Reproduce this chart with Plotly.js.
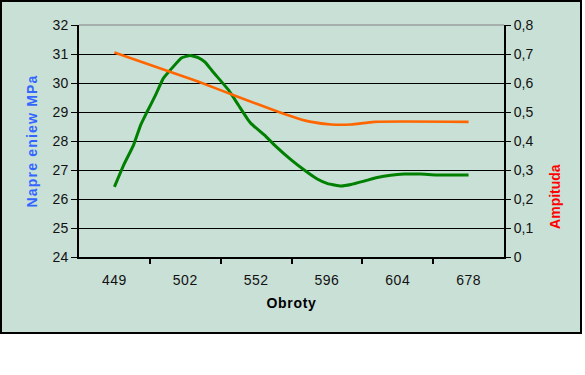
<!DOCTYPE html>
<html><head><meta charset="utf-8">
<script src="https://cdn.plot.ly/plotly-3.0.1.min.js"></script>
<style>
html,body{margin:0;padding:0;background:#fff;}
#frame{position:absolute;left:0;top:0;width:582px;height:334px;box-sizing:border-box;border:2px solid #000;background:#c9e0d7;}
#chart{position:absolute;left:0;top:0;width:585px;height:375px;}
#chart .ytitle{letter-spacing:1.2px;}
#chart .xtitle{letter-spacing:0.7px;}
#chart .xtick text{letter-spacing:0.5px;}
</style></head><body>
<div id="frame"></div><div id="chart"></div>
<script>
// category labels (rpm)
const obroty = ['449','502','552','596','604','678'];
// Napięcie [MPa], positions in category-index units
const napPos = [0, 0.13, 0.27, 0.37, 0.46, 0.58, 0.69, 0.79, 0.95, 1.07, 1.19, 1.28, 1.39, 1.61, 1.75, 1.89, 1.93, 2.12, 2.26, 2.50, 2.68, 2.87, 3.01, 3.20, 3.34, 3.53, 3.71, 3.90, 4.09, 4.32, 4.55, 5.00];
const napVal = [26.42, 27.17, 27.86, 28.55, 29.00, 29.58, 30.16, 30.45, 30.87, 30.95, 30.87, 30.72, 30.39, 29.76, 29.24, 28.72, 28.60, 28.20, 27.86, 27.34, 27.00, 26.68, 26.53, 26.45, 26.50, 26.62, 26.74, 26.82, 26.86, 26.86, 26.83, 26.83];
// Amplituda
const ampPos = [0, 0.58, 1.19, 1.75, 2.31, 2.59, 2.78, 3.06, 3.34, 3.67, 5.00];
const ampVal = [0.705, 0.656, 0.604, 0.552, 0.501, 0.478, 0.466, 0.457, 0.457, 0.466, 0.466];

const idx = obroty.map((_, i) => i);
const between = idx.slice(1).map(i => i - 0.5);
const F = '"Liberation Sans", Arial, sans-serif';

const traces = [
  {x: napPos, y: napVal, type: 'scatter', mode: 'lines', name: 'Napięcie',
   line: {color: '#008000', width: 3, shape: 'spline', smoothing: 0.4}, yaxis: 'y'},
  {x: ampPos, y: ampVal, type: 'scatter', mode: 'lines', name: 'Amplituda',
   line: {color: '#ff6600', width: 2.6, shape: 'spline', smoothing: 0.5}, yaxis: 'y2'}
];

const layout = {
  width: 585, height: 375,
  margin: {l: 79, r: 81, t: 25, b: 118},
  paper_bgcolor: 'rgba(0,0,0,0)', plot_bgcolor: 'rgba(0,0,0,0)',
  showlegend: false,
  separators: ', ',
  font: {family: F, size: 14, color: '#111'},
  xaxis: {
    range: [-0.5, obroty.length - 0.5], tickmode: 'array', tickvals: idx, ticktext: obroty,
    ticks: 'outside', ticklen: 9, tickcolor: 'rgba(0,0,0,0)',
    minor: {tickmode: 'array', tickvals: between, ticks: 'outside', ticklen: 5, tickwidth: 2, tickcolor: '#000', showgrid: false},
    showline: true, linecolor: '#000', linewidth: 2, showgrid: false, zeroline: false,
    tickfont: {family: F, size: 14, color: '#111'},
    title: {text: 'Obroty', font: {family: F, size: 14, color: '#000', weight: 700}, standoff: 11}
  },
  yaxis: {
    range: [24, 32], dtick: 1, ticks: 'outside', ticklen: 6, tickwidth: 1, tickcolor: '#000',
    showline: true, linecolor: '#000', linewidth: 2, showgrid: true, gridcolor: '#000', gridwidth: 1,
    zeroline: false, tickfont: {family: F, size: 14, color: '#111'},
    title: {text: 'Napre eniew MPa', font: {family: F, size: 14, color: '#3366ff', weight: 700}, standoff: 12}
  },
  yaxis2: {
    range: [0, 0.8], dtick: 0.1, overlaying: 'y', side: 'right', ticks: 'outside', ticklen: 5,
    tickwidth: 1, tickcolor: '#000', showline: true, linecolor: '#000', linewidth: 2,
    showgrid: false, zeroline: false, tickfont: {family: F, size: 14, color: '#111'}
  },
  shapes: [
    {type: 'line', xref: 'paper', yref: 'paper', x0: 0, x1: 1, y0: 1, y1: 1, line: {color: '#808080', width: 1}}
  ],
  annotations: [
    {text: 'Ampituda', xref: 'paper', yref: 'paper', x: 1.12, y: 0.259, xanchor: 'center', yanchor: 'middle',
     textangle: -90, showarrow: false, font: {family: F, size: 14, color: '#ff0000', weight: 700}}
  ]
};

Plotly.newPlot('chart', traces, layout, {displayModeBar: false, staticPlot: true});
</script>
</body></html>
